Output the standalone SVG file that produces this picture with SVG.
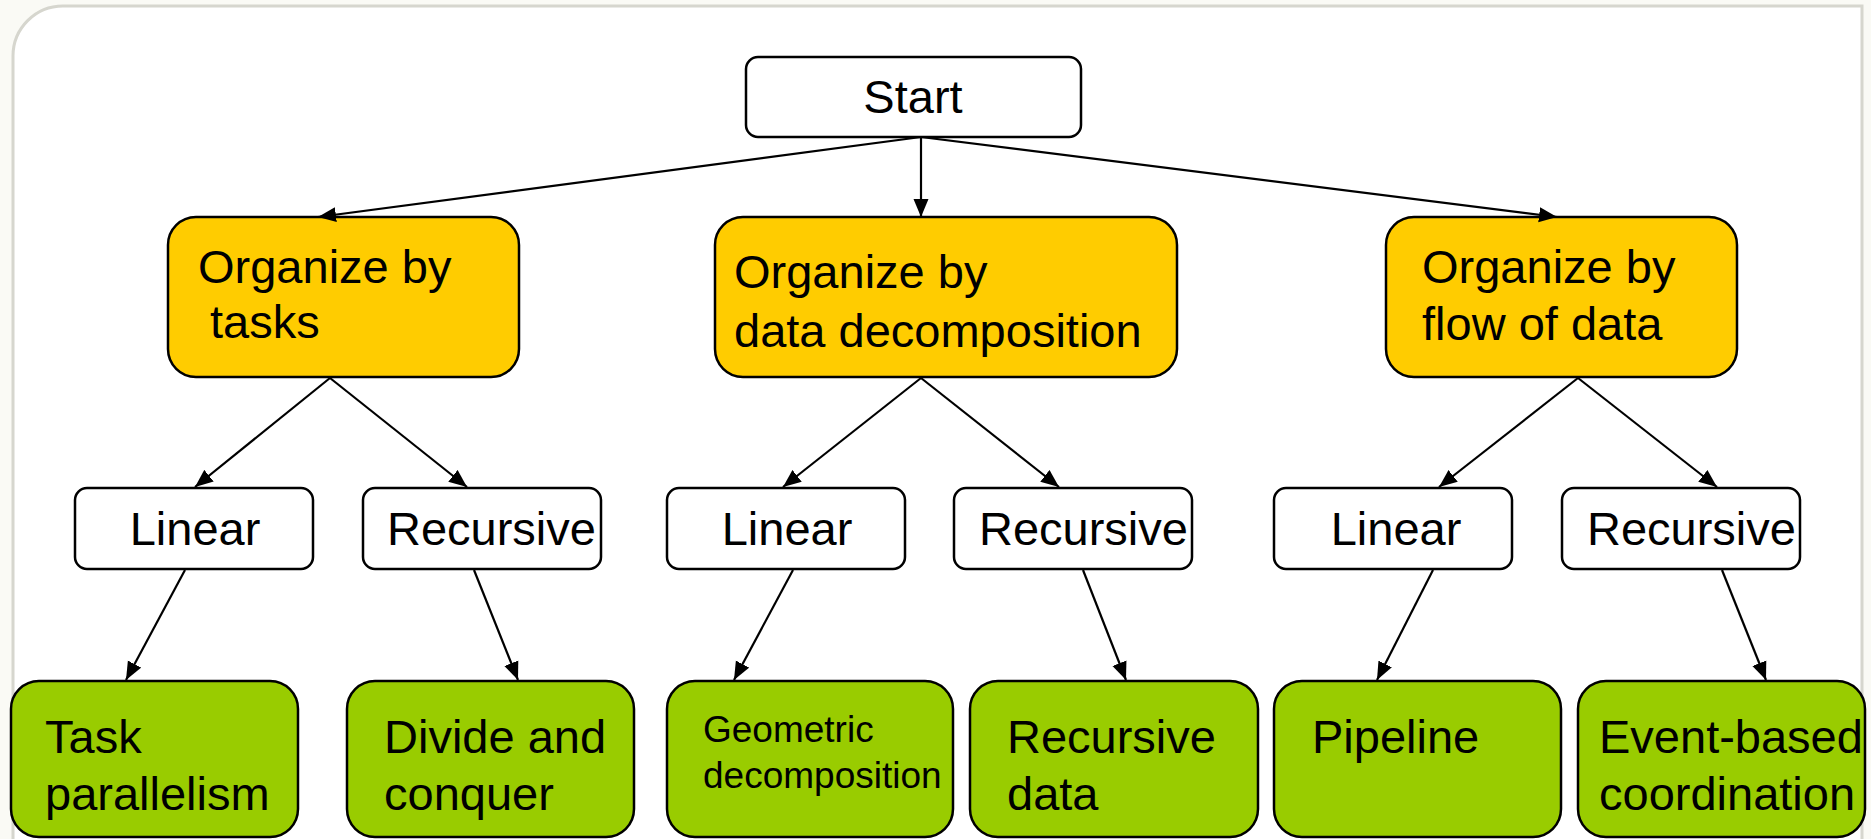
<svg xmlns="http://www.w3.org/2000/svg" width="1871" height="839" viewBox="0 0 1871 839">
  <style>
    .frame { fill: #ffffff; stroke: #d6d6ce; stroke-width: 3; }
    .plain { fill: #ffffff; stroke: #000000; stroke-width: 2.5; }
    .group { fill: #ffcc00; stroke: #000000; stroke-width: 2.5; }
    .leaf { fill: #99cc00; stroke: #000000; stroke-width: 2.5; }
    text { font-family: "Liberation Sans", Arial, sans-serif; font-size: 47px; fill: #000000; }
    .small { font-size: 37px; }
    .mid { text-anchor: middle; }
    .link { fill: none; stroke: #000000; stroke-width: 2.2; marker-end: url(#head); }
  </style>
  <defs>
    <marker id="head" markerUnits="userSpaceOnUse" markerWidth="19" markerHeight="16" refX="18" refY="8" orient="auto">
      <path d="M0,0.5 L18,8 L0,15.5 z" fill="#000000"/>
    </marker>
  </defs>

  <!-- page background and slide frame -->
  <rect x="0" y="0" width="1871" height="839" fill="#fafaf5"/>
  <path class="frame" d="M13,839 L13,56 A50,50 0 0 1 63,6 L1862,6 L1862,839"/>

  <!-- root -->
  <g id="start">
    <rect class="plain" x="746" y="57" width="335" height="80" rx="12"/>
    <text class="mid" x="913" y="113">Start</text>
  </g>

  <!-- organisation strategies -->
  <g id="by-tasks">
    <rect class="group" x="168" y="217" width="351" height="160" rx="28"/>
    <text x="198" y="283">Organize by</text>
    <text x="210" y="338">tasks</text>
  </g>
  <g id="by-data">
    <rect class="group" x="715" y="217" width="462" height="160" rx="28"/>
    <text x="734" y="288">Organize by</text>
    <text x="734" y="347">data decomposition</text>
  </g>
  <g id="by-flow">
    <rect class="group" x="1386" y="217" width="351" height="160" rx="28"/>
    <text x="1422" y="283">Organize by</text>
    <text x="1422" y="340">flow of data</text>
  </g>

  <!-- linear / recursive choices -->
  <g id="tasks-linear">
    <rect class="plain" x="75" y="488" width="238" height="81" rx="12"/>
    <text class="mid" x="195" y="545">Linear</text>
  </g>
  <g id="tasks-recursive">
    <rect class="plain" x="363" y="488" width="238" height="81" rx="12"/>
    <text x="387" y="545">Recursive</text>
  </g>
  <g id="data-linear">
    <rect class="plain" x="667" y="488" width="238" height="81" rx="12"/>
    <text class="mid" x="787" y="545">Linear</text>
  </g>
  <g id="data-recursive">
    <rect class="plain" x="954" y="488" width="238" height="81" rx="12"/>
    <text x="979" y="545">Recursive</text>
  </g>
  <g id="flow-linear">
    <rect class="plain" x="1274" y="488" width="238" height="81" rx="12"/>
    <text class="mid" x="1396" y="545">Linear</text>
  </g>
  <g id="flow-recursive">
    <rect class="plain" x="1562" y="488" width="238" height="81" rx="12"/>
    <text x="1587" y="545">Recursive</text>
  </g>

  <!-- resulting patterns -->
  <g id="task-parallelism">
    <rect class="leaf" x="11" y="681" width="287" height="156" rx="28"/>
    <text x="45" y="753">Task</text>
    <text x="45" y="810">parallelism</text>
  </g>
  <g id="divide-and-conquer">
    <rect class="leaf" x="347" y="681" width="287" height="156" rx="28"/>
    <text x="384" y="753">Divide and</text>
    <text x="384" y="810">conquer</text>
  </g>
  <g id="geometric-decomposition">
    <rect class="leaf" x="667" y="681" width="286" height="156" rx="28"/>
    <text class="small" x="703" y="742">Geometric</text>
    <text class="small" x="703" y="788">decomposition</text>
  </g>
  <g id="recursive-data">
    <rect class="leaf" x="970" y="681" width="288" height="156" rx="28"/>
    <text x="1007" y="753">Recursive</text>
    <text x="1007" y="810">data</text>
  </g>
  <g id="pipeline">
    <rect class="leaf" x="1274" y="681" width="287" height="156" rx="28"/>
    <text x="1312" y="753">Pipeline</text>
  </g>
  <g id="event-based-coordination">
    <rect class="leaf" x="1578" y="681" width="287" height="156" rx="28"/>
    <text x="1599" y="753">Event-based</text>
    <text x="1599" y="810">coordination</text>
  </g>

  <!-- connectors -->
  <g id="connectors">
    <line class="link" x1="921" y1="137" x2="318" y2="217"/>
    <line class="link" x1="921" y1="137" x2="921" y2="217"/>
    <line class="link" x1="921" y1="137" x2="1557" y2="217"/>

    <line class="link" x1="330" y1="378" x2="195" y2="487"/>
    <line class="link" x1="330" y1="378" x2="467" y2="487"/>
    <line class="link" x1="921" y1="378" x2="783" y2="487"/>
    <line class="link" x1="921" y1="378" x2="1059" y2="487"/>
    <line class="link" x1="1578" y1="378" x2="1439" y2="487"/>
    <line class="link" x1="1578" y1="378" x2="1717" y2="487"/>

    <line class="link" x1="185" y1="570" x2="126" y2="680"/>
    <line class="link" x1="474" y1="570" x2="518" y2="680"/>
    <line class="link" x1="793" y1="570" x2="734" y2="680"/>
    <line class="link" x1="1083" y1="570" x2="1126" y2="680"/>
    <line class="link" x1="1433" y1="570" x2="1377" y2="680"/>
    <line class="link" x1="1722" y1="570" x2="1766" y2="680"/>
  </g>
</svg>
